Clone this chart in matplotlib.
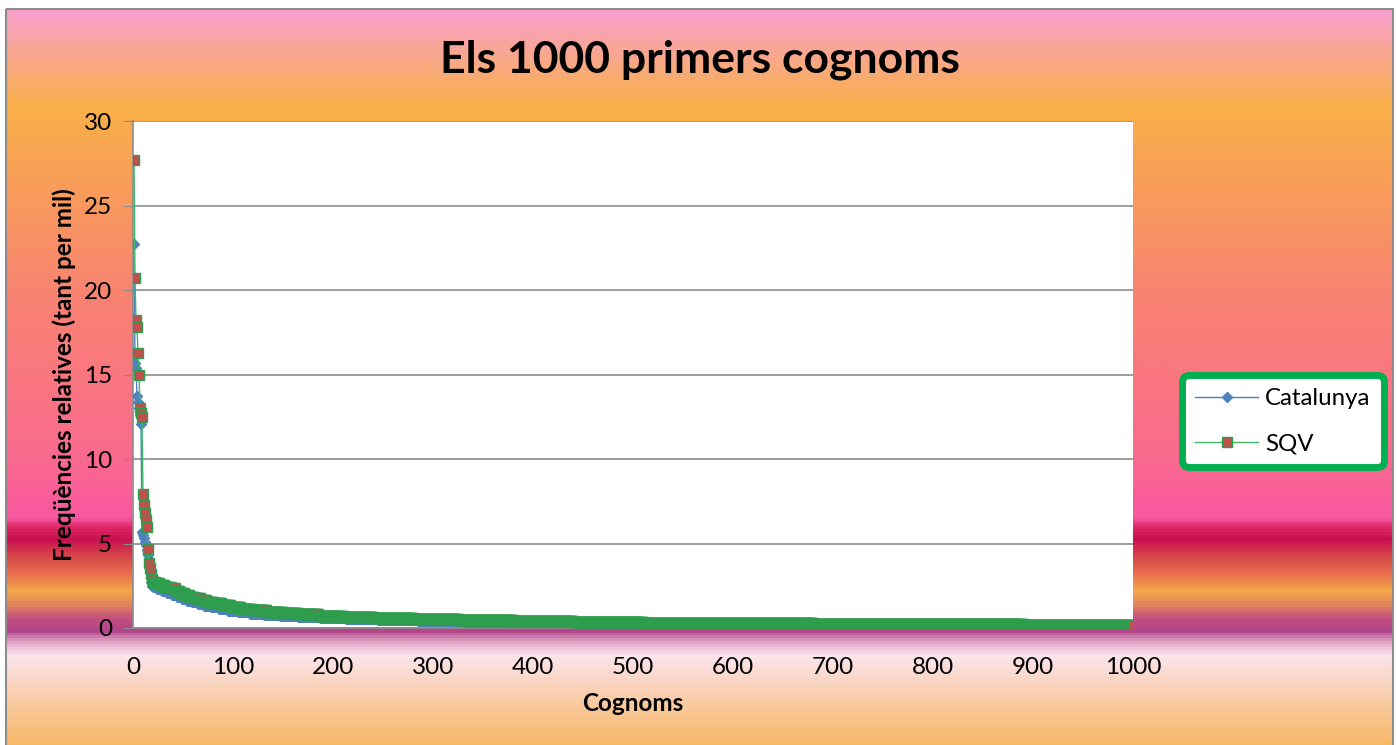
import numpy as np
import matplotlib
matplotlib.use("Agg")
import matplotlib.pyplot as plt
from matplotlib.colors import LinearSegmentedColormap
from matplotlib.patches import Rectangle

plt.rcParams['font.family'] = ['Lato', 'DejaVu Sans']

title = "Els 1000 primers cognoms"
x_label = "Cognoms"
y_label = "Freqüències relatives (tant per mil)"
series_names = ["Catalunya", "SQV"]

# primers cognoms (rang 1-19), llegits un per un
cat_top = [22.7, 15.7, 15.4, 13.7, 13.4, 13.0, 12.6, 12.1, 5.7, 5.5,
           5.3, 5.1, 4.9, 4.6, 4.3, 4.0, 3.8, 2.7, 2.5]
sqv_top = [27.7, 20.7, 18.2, 17.8, 16.3, 15.0, 13.0, 12.7, 12.5, 7.9,
           7.3, 6.8, 6.4, 6.0, 4.7, 3.85, 3.55, 3.2, 2.9]

# la resta (rang 20-1000): valor i nombre de cognoms amb aquest valor
cat_tail_vals = [2.4, 2.3, 2.2, 2.1, 1.95, 1.82, 1.72, 1.62, 1.52, 1.42,
                 1.32, 1.22, 1.12, 1.02, 0.93, 0.85, 0.78, 0.71, 0.64, 0.58,
                 0.52, 0.47, 0.42, 0.38, 0.34, 0.3, 0.26, 0.22, 0.19, 0.15]
cat_tail_counts = [4, 5, 5, 5, 5, 5, 5, 5, 6, 6,
                   7, 8, 9, 10, 12, 14, 16, 18, 22, 26,
                   32, 40, 46, 55, 65, 75, 85, 100, 120, 170]
sqv_tail_vals = [2.75, 2.65, 2.55, 2.45, 2.35, 2.2, 2.05, 1.95, 1.85, 1.75,
                 1.65, 1.55, 1.45, 1.35, 1.25, 1.15, 1.05, 0.95, 0.88, 0.8,
                 0.72, 0.65, 0.58, 0.52, 0.46, 0.41, 0.36, 0.32, 0.28, 0.24,
                 0.21, 0.18]
sqv_tail_counts = [3, 4, 5, 6, 5, 4, 5, 5, 5, 6,
                   6, 7, 8, 9, 10, 12, 14, 17, 15, 20,
                   25, 30, 40, 45, 55, 60, 70, 80, 90, 100,
                   110, 110]

cat = np.concatenate([cat_top, np.repeat(cat_tail_vals, cat_tail_counts)])
sqv = np.concatenate([sqv_top, np.repeat(sqv_tail_vals, sqv_tail_counts)])
ranks_cat = np.arange(1, len(cat) + 1)
ranks_sqv = np.arange(1, len(sqv) + 1)

W, H = 1397, 745
fig = plt.figure(figsize=(W / 100, H / 100), dpi=100, facecolor='white')

# fons degradat (estil Excel)
bg = fig.add_axes([0, 0, 1, 1])
bg.set_xlim(0, W)
bg.set_ylim(H, 0)
bg.axis('off')
stops = [(9, '#F9A0CC'), (105, '#F8B048'), (300, '#F98273'), (450, '#F96C8C'),
         (518, '#F858A0'), (528, '#E02868'), (540, '#C81050'), (558, '#D84848'),
         (575, '#E87050'), (592, '#F4A848'), (607, '#E08060'), (620, '#C25080'),
         (632, '#B04488'), (639, '#D080B0'), (648, '#EEC0D8'), (658, '#FCE4EC'),
         (700, '#F9CDA8'), (745, '#F8B868')]
pos = [(p - 9) / (745 - 9) for p, _ in stops]
cmap = LinearSegmentedColormap.from_list('fons', list(zip(pos, [c for _, c in stops])))
grad = np.linspace(0, 1, 736).reshape(-1, 1)
bg.imshow(grad, cmap=cmap, aspect='auto', extent=(6, 1393, 745, 9), interpolation='bilinear')
bg.add_patch(Rectangle((6, 9), 1387, 740, fill=False, edgecolor='#8C8C8C', linewidth=1.5))

ax = fig.add_axes([133 / W, 1 - 628 / H, 1000 / W, 507 / H])
ax.set_facecolor('white')
ax.plot(ranks_cat, cat, color='#4F81BD', linewidth=1, marker='D', markersize=5.5,
        markerfacecolor='#4F81BD', markeredgecolor='#4F81BD', label=series_names[0], zorder=3)
ax.plot(ranks_sqv, sqv, color='#3CB868', linewidth=1, marker='s', markersize=6.5,
        markerfacecolor='#C0504D', markeredgecolor='#2E9E4E', markeredgewidth=1,
        label=series_names[1], zorder=4)

ax.set_xlim(0, 1000)
ax.set_ylim(0, 30)
ax.set_xticks(range(0, 1001, 100))
ax.set_yticks(range(0, 31, 5))
ax.grid(axis='y', color='#8C8C8C', linewidth=1.2)
ax.set_axisbelow(True)
for s in ['top', 'right']:
    ax.spines[s].set_visible(False)
for s in ['left', 'bottom']:
    ax.spines[s].set_color('#8C8C8C')
    ax.spines[s].set_linewidth(1.2)
ax.tick_params(axis='y', direction='out', length=7, color='#8C8C8C', labelsize=17.5, pad=8)
ax.tick_params(axis='x', length=0, labelsize=17.5, pad=21)

ax.set_xlabel(x_label, fontsize=17.5, fontweight='bold', labelpad=10)
ax.set_ylabel(y_label, fontsize=17.5, fontweight='bold', labelpad=6)
fig.text(700 / W, 1 - 60 / H, title, ha='center', va='center', fontsize=32, fontweight='bold')

leg = ax.legend(loc='center', bbox_to_anchor=(1283 / W, 1 - 421 / H),
                bbox_transform=fig.transFigure, fontsize=17.3, frameon=True,
                fancybox=True, borderpad=0.55, labelspacing=1.0, handlelength=2.6,
                handletextpad=0.3, borderaxespad=0)
leg.get_frame().set_edgecolor('#00B050')
leg.get_frame().set_linewidth(5)
leg.get_frame().set_facecolor('white')
leg.get_frame().set_alpha(1)
leg.get_frame().set_boxstyle('round,pad=0,rounding_size=0.3')

fig.savefig('out.png', dpi=100, facecolor='white')
